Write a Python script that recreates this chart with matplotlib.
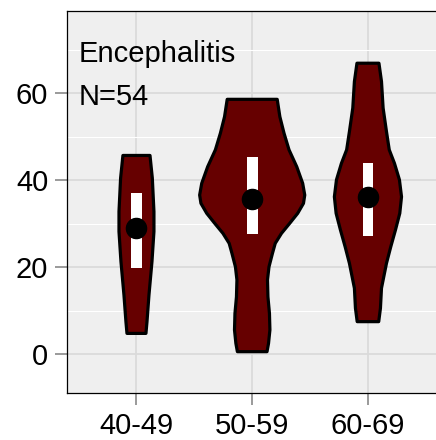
import numpy as np
import matplotlib
matplotlib.use("Agg")
import matplotlib.pyplot as plt

plt.rcParams['font.family'] = ['Liberation Sans', 'DejaVu Sans']

# age groups
groups = ["40-49", "50-59", "60-69"]

# violin outlines: (value, half width in category units)
v1_y = [4.8, 7.5, 13.6, 21.3, 28.2, 32.8, 40.5, 45.7]
v1_w = [0.082, 0.091, 0.108, 0.134, 0.151, 0.151, 0.137, 0.117]
v2_y = [0.6, 2.5, 5.6, 9.4, 13.2, 17.1, 20.1, 23.2, 25.5, 27.8, 30.1, 32.4,
        34.7, 36.6, 39.3, 43.1, 47.0, 50.8, 54.6, 58.6]
v2_w = [0.128, 0.141, 0.153, 0.149, 0.136, 0.132, 0.145, 0.175, 0.199, 0.253,
        0.324, 0.393, 0.443, 0.454, 0.436, 0.385, 0.318, 0.275, 0.239, 0.216]
v3_y = [7.5, 10.6, 15.2, 20.9, 24.7, 28.6, 32.4, 36.2, 40.1, 43.9, 47.0, 51.2,
        56.6, 62.7, 66.9]
v3_w = [0.093, 0.108, 0.117, 0.160, 0.197, 0.238, 0.275, 0.290, 0.272, 0.229,
        0.184, 0.160, 0.131, 0.117, 0.095]

# quartiles and medians
q1 = [19.8, 27.6, 27.2]
q3 = [37.0, 45.4, 43.9]
medians = [29.0, 35.6, 36.1]

title = "Encephalitis"
n_label = "N=54"

fig = plt.figure(figsize=(4.36, 4.4), dpi=100)
ax = fig.add_axes([0.1537, 0.1068, 0.8495, 0.8682])
ax.set_facecolor('#EFEFEF')

ax.set_xlim(0.4, 3.6)
ax.set_ylim(-8.9, 78.9)
ax.set_xticks([1, 2, 3])
ax.set_xticklabels(groups)
ax.set_yticks([0, 20, 40, 60])
ax.set_yticks([10, 30, 50, 70], minor=True)

ax.grid(which='major', color='#DADADA', lw=1.3)
ax.grid(which='minor', axis='y', color='white', lw=0.8)
ax.set_axisbelow(True)

ax.tick_params(axis='both', which='major', labelsize=21, length=8.5, width=1.1,
               color='#7F7F7F', pad=5, labelcolor='black')
ax.tick_params(axis='both', which='minor', length=0)

for s in ['left', 'bottom', 'top']:
    ax.spines[s].set_color('black')
    ax.spines[s].set_linewidth(0.9)
ax.spines['right'].set_visible(False)

profiles = [(v1_y, v1_w), (v2_y, v2_w), (v3_y, v3_w)]
for i, (ys, ws) in enumerate(profiles):
    pos = i + 1
    ys = np.array(ys)
    ws = np.array(ws)
    xs = np.concatenate([pos - ws, (pos + ws)[::-1]])
    yy = np.concatenate([ys, ys[::-1]])
    ax.fill(xs, yy, facecolor='#660000', edgecolor='black', lw=2.3,
            joinstyle='round', zorder=3)
    ax.fill_between([pos - 0.047, pos + 0.047], q1[i], q3[i], color='white',
                    lw=0, zorder=4)
    ax.plot(pos, medians[i], 'o', color='black', ms=14.5, zorder=5)

ax.text(0.504, 67.2, title, fontsize=21, ha='left', va='baseline')
ax.text(0.504, 57.3, n_label, fontsize=21, ha='left', va='baseline')

fig.savefig('out.png', dpi=100)
